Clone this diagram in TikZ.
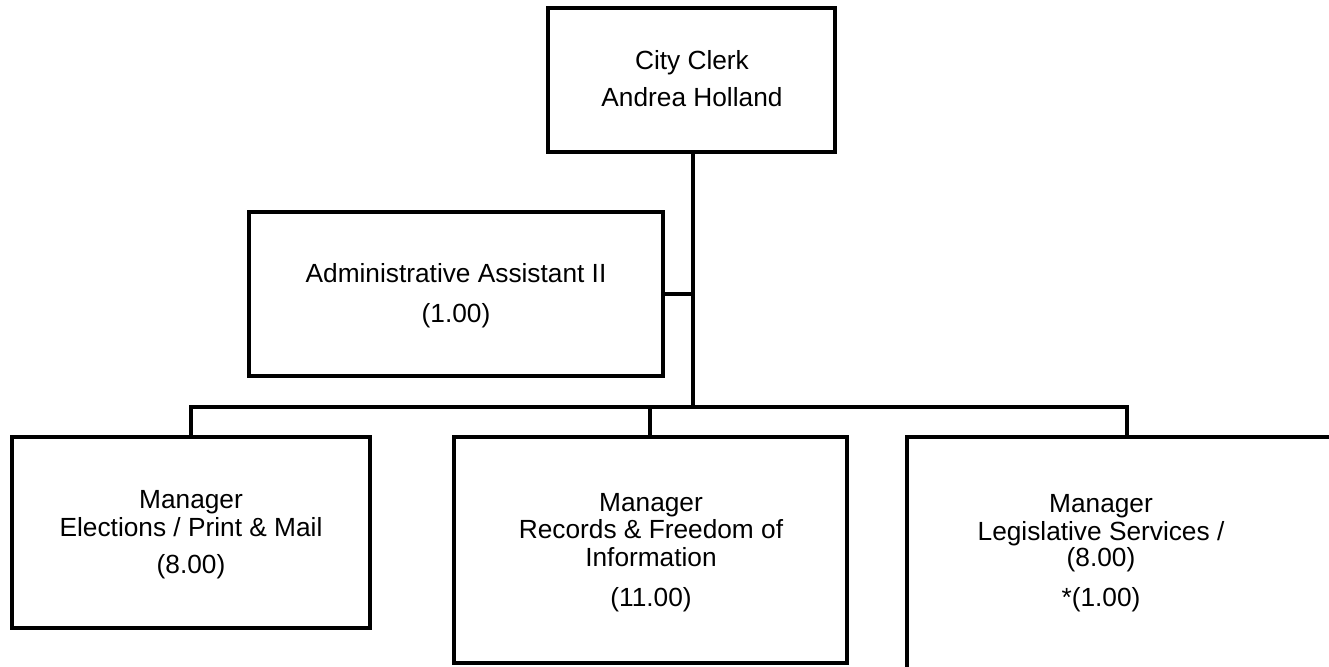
\documentclass[tikz,border=0pt]{standalone}
\usepackage{fontspec}
\setmainfont{Liberation Sans}
\usetikzlibrary{fit}
\begin{document}
\begin{tikzpicture}[x=0.75pt,y=-0.75pt,
  box/.style={draw=black,line width=3.3pt,inner sep=0pt,line join=miter},
  wire/.style={draw=black,line width=3.3pt,line join=miter},
  lbl/.style={anchor=base,inner sep=0pt,font=\fontsize{19.7pt}{22pt}\selectfont}]
\clip (0,0) rectangle (1329,667);
% boxes
\node[box,fit={(548,8) (835,152)}] (top) {};
\node[box,fit={(249,212) (663,376)}] (admin) {};
\node[box,fit={(12,437) (370,628)}] (mgr1) {};
\node[box,fit={(454,437) (847,663)}] (mgr2) {};
\node[box,fit={(907,437) (1360,700)}] (mgr3) {};
% texts
\node[lbl] (t1) at (692,70) {City Clerk};
\node[lbl] (t2) at (692,107) {Andrea Holland};
\node[lbl] (a1) at (456,282) {Administrative Assistant II};
\node[lbl] (a2) at (456,322) {(1.00)};
\node[lbl] (m11) at (191,508) {Manager};
\node[lbl] (m12) at (191,536) {Elections / Print \& Mail};
\node[lbl] (m13) at (191,573) {(8.00)};
\node[lbl] (m21) at (651,511) {Manager};
\node[lbl] (m22) at (651,538) {Records \& Freedom of};
\node[lbl] (m23) at (651,566) {Information};
\node[lbl] (m24) at (651,606) {(11.00)};
\node[lbl] (m31) at (1101,512) {Manager};
\node[lbl] (m32) at (1101,540) {Legislative Services /};
\node[lbl] (m33) at (1101,566) {(8.00)};
\node[lbl] (m34) at (1101,606) {*(1.00)};
% connectors
\coordinate (bus) at (693,407);
\coordinate (busL) at (191,407);
\coordinate (busR) at (1127,407);
\coordinate (busM) at (650,407);
\draw[wire] (top.south -| bus) -- (bus);
\draw[wire] (admin.east) -- (admin.east -| bus);
\draw[wire] (busL |- mgr1.north) -- (busL) -- (busR) -- (busR |- mgr3.north);
\draw[wire] (busM) -- (busM |- mgr2.north);
\end{tikzpicture}
\end{document}
